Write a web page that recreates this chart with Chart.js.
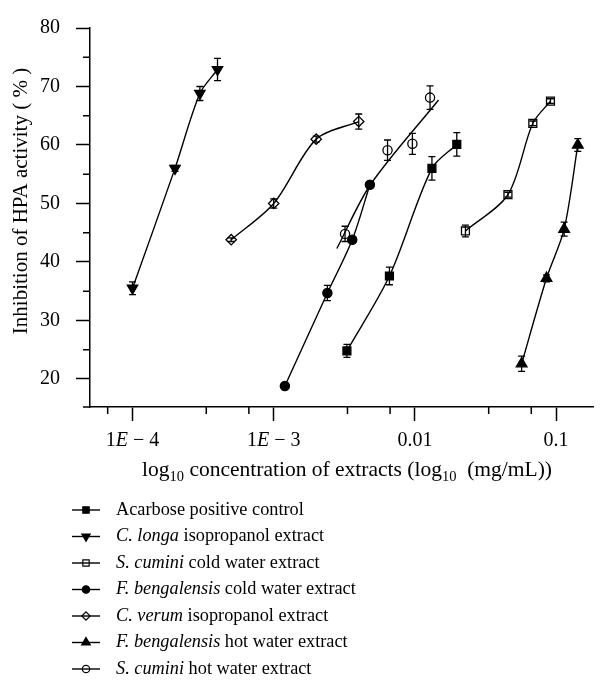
<!DOCTYPE html>
<html><head><meta charset="utf-8">
<script src="https://cdn.jsdelivr.net/npm/chart.js@4.4.0/dist/chart.umd.min.js"></script>
<style>html,body{margin:0;padding:0;background:#fff;}canvas{display:block;}</style>
</head><body>
<canvas id="c" width="601" height="681"></canvas>
<script>
// ---- data ----
const acarboseX = [0.0033, 0.0066, 0.0132, 0.0198];
const acarboseY = [24.8, 37.6, 56.0, 60.1];
const acarboseErr = [1.1, 1.5, 2.0, 2.0];

const cLongaX = [0.0001, 0.0002, 0.0003, 0.0004];
const cLongaY = [35.5, 56.0, 68.8, 72.9];
const cLongaErr = [1.1, 0.5, 1.2, 1.9];

const sCuminiColdX = [0.0228, 0.0456, 0.0684, 0.0912];
const sCuminiColdY = [45.3, 51.5, 63.7, 67.5];
const sCuminiColdErr = [1.0, 0.4, 0.4, 0.4];

const fBengColdX = [0.0012, 0.0024, 0.0036, 0.0048];
const fBengColdY = [18.8, 34.7, 43.8, 53.2];
const fBengColdErr = [0.3, 1.3, 0.5, 0.5];

const cVerumX = [0.0005, 0.001, 0.002, 0.004];
const cVerumY = [43.8, 50.0, 61.0, 64.0];
const cVerumErr = [0.3, 0.8, 0.5, 1.3];

const fBengHotX = [0.057, 0.0855, 0.114, 0.1425];
const fBengHotY = [22.6, 37.2, 45.6, 60.0];
const fBengHotErr = [1.3, 0.6, 1.2, 1.1];

const sCuminiHotX = [0.0032, 0.0064, 0.0096, 0.0128];
const sCuminiHotY = [44.8, 59.1, 60.2, 68.1];
const sCuminiHotErr = [1.3, 1.75, 1.8, 2.0];
// fitted line drawn for S. cumini hot water extract
const sCuminiHotFitX = [0.0028, 0.00484, 0.0147];
const sCuminiHotFitY = [42.3, 53.2, 67.7];

const legendItalic = ["", "C. longa", "S. cumini", "F. bengalensis", "C. verum", "F. bengalensis", "S. cumini"];
const legendPlain = ["Acarbose positive control", " isopropanol extract", " cold water extract", " cold water extract", " isopropanol extract", " hot water extract", " hot water extract"];

const xTickValues = [0.0001, 0.001, 0.01, 0.1];
const xTickLabels = ["1E \u2212 4", "1E \u2212 3", "0.01", "0.1"];
const xMinorTicks = [0.0000667, 0.000333, 0.000667, 0.00333, 0.00667, 0.0333, 0.0667];
const yTickValues = [20, 30, 40, 50, 60, 70, 80];
const yMinorTicks = [25, 35, 45, 55, 65, 75];
const yTitle = "Inhibition of HPA activity ( % )";
const xTitleParts = [["log",0],["10",1],[" concentration of extracts (log",0],["10",1],["  (mg/mL))",0]];

// ---- chart ----
const SERIF = "'Liberation Serif', 'DejaVu Serif', serif";
const pts = (xs, ys) => xs.map((x, i) => ({x: x, y: ys[i]}));
const OPEN = 'rgba(0,0,0,0)';

function series(label, xs, ys, errs, style, radius, filled, rot) {
  return {
    label: label, data: pts(xs, ys), errors: errs, showLine: true,
    borderColor: '#000', borderWidth: 1.4, tension: 0.3,
    pointStyle: style, pointRadius: radius, pointHoverRadius: radius,
    pointRotation: rot || 0, pointBorderWidth: 1.3, pointBorderColor: '#000',
    pointBackgroundColor: filled ? '#000' : OPEN, legendFilled: filled
  };
}

const datasets = [
  series(legendItalic[0] + legendPlain[0], acarboseX, acarboseY, acarboseErr, 'rect', 5.6, true),
  series(legendItalic[1] + legendPlain[1], cLongaX, cLongaY, cLongaErr, 'triangle', 6.0, true, 180),
  series(legendItalic[2] + legendPlain[2], sCuminiColdX, sCuminiColdY, sCuminiColdErr, 'rect', 5.6, false),
  series(legendItalic[3] + legendPlain[3], fBengColdX, fBengColdY, fBengColdErr, 'circle', 4.6, true),
  series(legendItalic[4] + legendPlain[4], cVerumX, cVerumY, cVerumErr, 'rectRot', 5.2, false),
  series(legendItalic[5] + legendPlain[5], fBengHotX, fBengHotY, fBengHotErr, 'triangle', 6.2, true),
  Object.assign(series(legendItalic[6] + legendPlain[6], sCuminiHotX, sCuminiHotY, sCuminiHotErr, 'circle', 4.6, false), {showLine: false}),
  {label: 'fit', data: pts(sCuminiHotFitX, sCuminiHotFitY), showLine: true, borderColor: '#000', borderWidth: 1.4,
   tension: 0.3, pointRadius: 0, pointHoverRadius: 0}
];

const decor = {
  id: 'decor',
  afterDatasetsDraw(chart) {
    const ctx = chart.ctx, xs = chart.scales.x, ys = chart.scales.y;
    ctx.save();
    ctx.strokeStyle = '#000'; ctx.lineWidth = 1.3;
    chart.data.datasets.forEach(ds => {
      if (!ds.errors) return;
      ds.data.forEach((p, i) => {
        const e = ds.errors[i];
        const px = xs.getPixelForValue(p.x);
        const t = ys.getPixelForValue(p.y + e), b = ys.getPixelForValue(p.y - e);
        ctx.beginPath();
        ctx.moveTo(px, t); ctx.lineTo(px, b);
        ctx.moveTo(px - 3.5, t); ctx.lineTo(px + 3.5, t);
        ctx.moveTo(px - 3.5, b); ctx.lineTo(px + 3.5, b);
        ctx.stroke();
      });
    });
    ctx.restore();
  },
  afterDraw(chart) {
    const ctx = chart.ctx, xs = chart.scales.x, ys = chart.scales.y, ca = chart.chartArea;
    ctx.save();
    ctx.strokeStyle = '#000'; ctx.fillStyle = '#000'; ctx.lineWidth = 1.5;
    ctx.beginPath();
    ctx.moveTo(ca.left - 7, ca.bottom); ctx.lineTo(ca.left, ca.bottom);
    xMinorTicks.forEach(v => { const px = xs.getPixelForValue(v); ctx.moveTo(px, ca.bottom); ctx.lineTo(px, ca.bottom + 7); });
    yMinorTicks.forEach(v => { const py = ys.getPixelForValue(v); ctx.moveTo(ca.left, py); ctx.lineTo(ca.left - 7, py); });
    ctx.stroke();
    // x tick labels (italic E)
    ctx.textBaseline = 'middle';
    xTickValues.forEach((v, i) => {
      const parts = [];
      for (const ch of xTickLabels[i]) parts.push([ch, ch === 'E']);
      let w = 0;
      parts.forEach(p => { ctx.font = (p[1] ? 'italic ' : '') + '20px ' + SERIF; w += ctx.measureText(p[0]).width; });
      let x = xs.getPixelForValue(v) - w / 2;
      ctx.textAlign = 'left';
      parts.forEach(p => { ctx.font = (p[1] ? 'italic ' : '') + '20px ' + SERIF; ctx.fillText(p[0], x, 441); x += ctx.measureText(p[0]).width; });
    });
    // x title with subscripts
    const big = '21.5px ' + SERIF, small = '14.5px ' + SERIF;
    let tw = 0;
    xTitleParts.forEach(p => { ctx.font = p[1] ? small : big; tw += ctx.measureText(p[0]).width; });
    let tx = 347 - tw / 2;
    ctx.textBaseline = 'alphabetic';
    xTitleParts.forEach(p => {
      ctx.font = p[1] ? small : big;
      ctx.fillText(p[0], tx, p[1] ? 481 : 476);
      tx += ctx.measureText(p[0]).width;
    });
    // y title
    ctx.save();
    ctx.translate(21, 201); ctx.rotate(-Math.PI / 2);
    ctx.font = '21px ' + SERIF; ctx.textAlign = 'center'; ctx.textBaseline = 'middle';
    ctx.fillText(yTitle, 0, 0);
    ctx.restore();
    // legend
    const rowY0 = 510, rowDy = 26.5;
    for (let di = 0; di < 7; di++) {
      const ds = chart.data.datasets[di];
      const y = rowY0 + di * rowDy;
      ctx.strokeStyle = '#000'; ctx.lineWidth = 1.4;
      ctx.beginPath(); ctx.moveTo(72, y); ctx.lineTo(100, y); ctx.stroke();
      ctx.fillStyle = ds.legendFilled ? '#000' : OPEN;
      ctx.lineWidth = 1.2;
      Chart.helpers.drawPoint(ctx, {pointStyle: ds.pointStyle, radius: ds.pointRadius * 0.8, rotation: ds.pointRotation, borderWidth: 1.2}, 86, y);
      ctx.fillStyle = '#000';
      ctx.textAlign = 'left'; ctx.textBaseline = 'middle';
      let lx = 116;
      if (legendItalic[di]) { ctx.font = 'italic 18.3px ' + SERIF; ctx.fillText(legendItalic[di], lx, y); lx += ctx.measureText(legendItalic[di]).width; }
      ctx.font = '18.3px ' + SERIF; ctx.fillText(legendPlain[di], lx, y);
    }
    ctx.restore();
  }
};

new Chart(document.getElementById('c'), {
  type: 'scatter',
  data: {datasets: datasets},
  options: {
    responsive: false, animation: false, devicePixelRatio: 1,
    layout: {padding: {top: 18, right: 1, left: 0, bottom: 0}},
    plugins: {legend: {display: false}, tooltip: {enabled: false}},
    scales: {
      x: {
        type: 'logarithmic', min: 0.00005, max: 0.184, position: 'bottom',
        afterBuildTicks: s => { s.ticks = xTickValues.map(v => ({value: v, major: true})); },
        afterFit: s => { s.height = 274; },
        ticks: {display: false},
        grid: {drawOnChartArea: false, drawTicks: true, tickLength: 14, tickWidth: 1.5, tickColor: '#000'},
        border: {display: true, color: '#000', width: 1.5}
      },
      y: {
        type: 'linear', min: 15.2, max: 80,
        afterBuildTicks: s => { s.ticks = yTickValues.map(v => ({value: v})); },
        afterFit: s => { s.width = 90; },
        ticks: {color: '#000', font: {family: SERIF, size: 20}, padding: 16},
        grid: {drawOnChartArea: false, drawTicks: true, tickLength: 14, tickWidth: 1.5, tickColor: '#000'},
        border: {display: true, color: '#000', width: 1.5}
      }
    }
  },
  plugins: [decor]
});
</script>
</body></html>
